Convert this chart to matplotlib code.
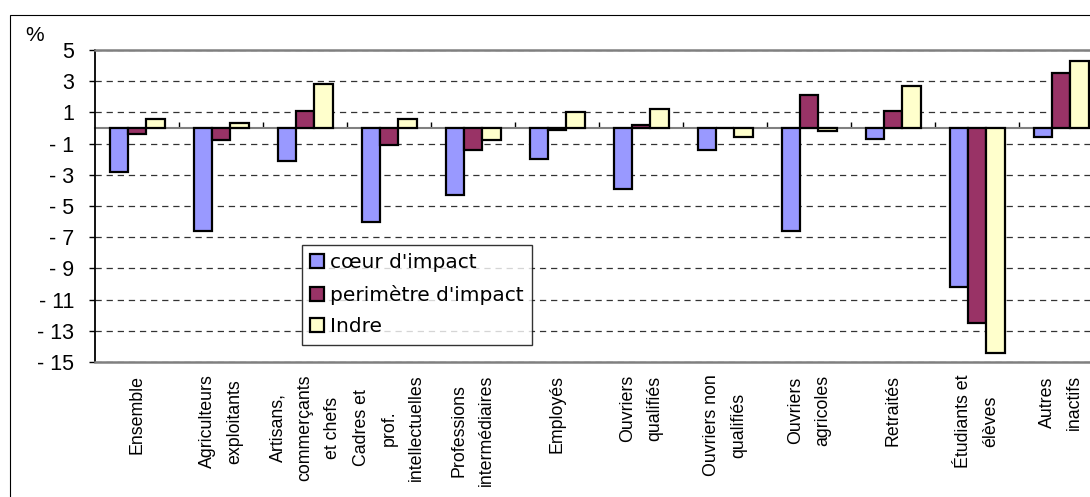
import matplotlib
matplotlib.use("Agg")
import matplotlib.pyplot as plt
import numpy as np
from matplotlib.patches import Rectangle

plt.rcParams['font.family'] = ['Liberation Sans', 'DejaVu Sans']
plt.rcParams['lines.scale_dashes'] = False

categories = ["Ensemble", "Agriculteurs\nexploitants", "Artisans,\ncommerçants\net chefs",
              "Cadres et\nprof.\nintellectuelles", "Professions\nintermédiaires", "Employés",
              "Ouvriers\nqualifiés", "Ouvriers non\nqualifiés", "Ouvriers\nagricoles",
              "Retraités", "Étudiants et\nélèves", "Autres\ninactifs"]
coeur = [-2.8, -6.6, -2.1, -6.0, -4.3, -2.0, -3.9, -1.4, -6.6, -0.7, -10.2, -0.6]
perimetre = [-0.4, -0.8, 1.1, -1.1, -1.4, -0.1, 0.2, 0.0, 2.1, 1.1, -12.5, 3.5]
indre = [0.6, 0.3, 2.8, 0.6, -0.8, 1.0, 1.2, -0.6, -0.2, 2.7, -14.4, 4.3]
series_names = ["cœur d'impact", "perimètre d'impact", "Indre"]
colors = ["#9999FF", "#993366", "#FFFFCC"]
yticks = [5, 3, 1, -1, -3, -5, -7, -9, -11, -13, -15]
ytick_labels = ["5", "3", "1", "- 1", "- 3", "- 5", "- 7", "- 9", "- 11", "- 13", "- 15"]

fig = plt.figure(figsize=(10.9, 4.97), dpi=100)
# outer chart frame
fig.patches.append(Rectangle((0.0092, -0.02), 1.05, 0.9898, transform=fig.transFigure,
                             fill=False, edgecolor="black", linewidth=0.8))

ax = fig.add_axes([0.0872, 0.2716, 0.9248, 0.6278])
x = np.arange(len(categories))
w = 0.218
for i, (vals, name, col) in enumerate(zip([coeur, perimetre, indre], series_names, colors)):
    ax.bar(x + (i - 1) * w, vals, w, color=col, edgecolor="black", linewidth=1.6,
           label=name, zorder=2)

ax.set_xlim(-0.5, len(categories) - 0.5)
ax.set_ylim(-15, 5)
ax.set_yticks(yticks)
ax.set_yticklabels(ytick_labels, fontsize=15.5)
ax.tick_params(axis="y", length=4, width=1, pad=11)
ax.set_xticks(x)
ax.set_xticklabels(categories, rotation=90, fontsize=12.8, va="top", ha="center",
                   multialignment="center", linespacing=1.8)
ax.tick_params(axis="x", length=0, pad=9)

ax.yaxis.grid(True, color="#333333", linewidth=0.9, dashes=(4.5, 3.5))
ax.set_axisbelow(True)
for s in ["top", "bottom"]:
    ax.spines[s].set_color("#808080")
    ax.spines[s].set_linewidth(1.8)
ax.spines["left"].set_linewidth(1.3)
ax.spines["right"].set_visible(False)

# zero axis with category tick marks
ymin, ymax = ax.get_ylim()
sec = ax.secondary_xaxis((0 - ymin) / (ymax - ymin))
sec.set_xticks(np.arange(len(categories) - 1) + 0.5)
sec.set_xticklabels([])
sec.tick_params(axis="x", direction="out", length=4, width=1, color="black")
for s in sec.spines.values():
    s.set_color("#808080")
    s.set_linewidth(1.5)

fig.text(0.032, 0.928, "%", fontsize=15, ha="center", va="center")

leg = ax.legend(loc="upper left", bbox_to_anchor=(0.2768, 0.507), bbox_transform=fig.transFigure,
                borderaxespad=0, prop={"family": "DejaVu Sans", "size": 14.5}, frameon=True,
                fancybox=False, handlelength=0.7, handleheight=0.7, handletextpad=0.3,
                labelspacing=0.62, borderpad=0.42)
leg.get_frame().set_edgecolor("black")
leg.get_frame().set_linewidth(1.0)

fig.savefig("out.png", dpi=100)
